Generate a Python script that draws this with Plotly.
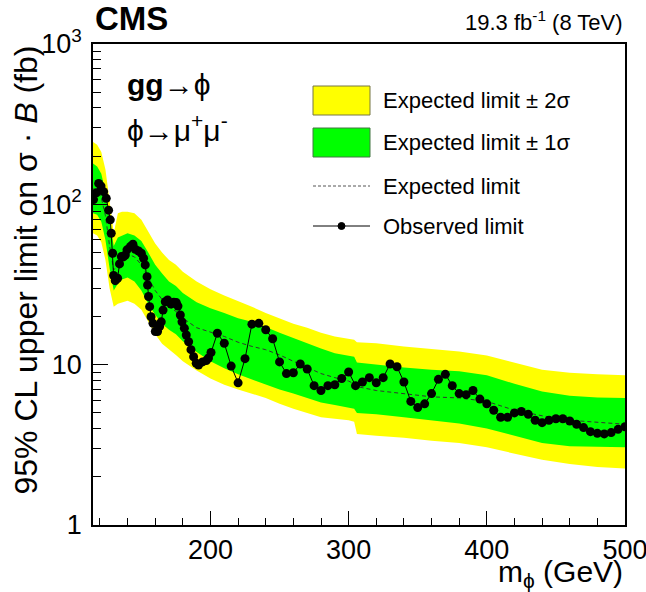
import plotly.graph_objects as go

# Expected limit and its +-1/2 sigma bands (fb) versus mass (GeV)
band_mass = [115, 118, 121, 124, 127, 130, 133, 136, 140, 145, 150, 155, 160, 165, 170,
             175, 180, 190, 200, 210, 220, 230, 240, 250, 260, 270, 280, 290, 300,
             304, 306, 320, 340, 360, 380, 400, 420, 440, 460, 480, 500]
exp_limit = [125, 122, 110, 85, 55, 39, 42, 46, 49, 47, 42, 35, 29, 25.5, 23,
             21.5, 19.5, 17, 16, 15, 13.8, 13, 12.4, 11.5, 10.5, 9.6, 8.8, 8.3, 7.9,
             7.6, 7.3, 6.9, 6.6, 6.3, 6.2, 5.9, 5.2, 4.8, 4.5, 4.35, 4.25]
exp_m2 = [66, 64, 58, 45, 30, 23, 24, 24.5, 25, 24, 22, 18.5, 15.5, 13.5, 12.5,
          11.5, 10.5, 9.2, 8.2, 7.5, 7.0, 6.6, 6.2, 5.7, 5.3, 5.0, 4.7, 4.6, 4.5,
          4.4, 3.7, 3.6, 3.5, 3.35, 3.25, 3.05, 2.8, 2.55, 2.4, 2.3, 2.25]
exp_m1 = [88, 86, 78, 60, 40, 29, 32, 34, 35, 33, 29, 24, 20.5, 18, 16.5,
          15.5, 14, 12, 10.5, 9.5, 8.7, 8.1, 7.6, 7.0, 6.6, 6.2, 5.8, 5.6, 5.4,
          5.3, 5.0, 4.9, 4.7, 4.5, 4.3, 4.0, 3.6, 3.25, 3.1, 3.08, 3.05]
exp_p1 = [180, 172, 155, 120, 80, 55, 62, 64, 66, 64, 59, 50, 42, 37, 33,
          31, 28, 24.5, 22.5, 21, 19.5, 18.5, 17.2, 15.8, 14.6, 13.6, 12.6, 11.8, 11.4,
          11.2, 10.3, 10.0, 9.6, 9.3, 9.1, 8.6, 7.6, 6.8, 6.4, 6.25, 6.2]
exp_p2 = [245, 235, 212, 165, 105, 66, 88, 90, 90, 88, 80, 68, 57, 50, 45,
          42, 38, 33, 29.5, 27, 25, 23, 21, 19.5, 18, 17, 15.8, 15, 14.6,
          14.3, 13.8, 13.6, 13.0, 12.5, 12.1, 11.4, 10.3, 9.3, 8.9, 8.7, 8.6]

# Observed limit (fb)
obs_mass = [115.4, 117.4, 119.1, 120.8, 122.7, 124.6, 126.3, 127.5, 128.2, 129.2, 129.9,
            131.1, 132.8, 134.2, 135.5, 137.0, 138.4, 139.6, 142.0, 143.9, 145.6, 148.0,
            150.0, 151.6, 152.8, 154.1, 154.5, 155.2, 156.0, 157.0, 158.4, 160.1, 161.7,
            163.2, 164.4, 165.7, 167.3, 169.0, 171.4, 173.5, 175.3, 176.5, 178.2, 179.4,
            181.1, 182.5, 184.2, 185.9, 187.8, 189.7, 191.4, 194.3, 197.0, 198.6, 200.4,
            205, 210, 215, 220, 225, 230, 235, 240, 245, 250, 255, 260, 265, 270, 275,
            280, 285, 290, 295, 300, 305, 310, 315, 320, 325, 330, 335, 340, 345, 350,
            355, 360, 365, 370, 375, 380, 385, 390, 395, 400, 405, 410, 415, 420, 425,
            430, 435, 440, 445, 450, 455, 460, 465, 470, 475, 480, 485, 490, 495, 500]
obs_limit = [107, 118, 135, 130, 120, 109, 92, 80, 66, 49.5, 36,
             33.4, 34.6, 42.5, 47.2, 47, 48.3, 52, 54.5, 56.4, 52.5, 51.2,
             49.5, 46.1, 41.9, 35.4, 31.4, 26.6, 23, 19.9, 18.1, 16.1, 16.1,
             17.3, 18.5, 21.9, 24.7, 25.3, 23.9, 24.5, 24.4, 23.2, 20.4, 18.5,
             16.9, 15.3, 13.9, 12.4, 11.2, 10.2, 9.96, 10.4, 10.6, 11.0, 11.9,
             15.7, 13.6, 9.8, 7.7, 10.9, 17.9, 18.1, 16.5, 14.5, 10.4, 8.8, 8.9, 10.1, 9.4, 7.4,
             6.9, 7.4, 7.5, 8.2, 9.0, 7.4, 7.8, 8.3, 7.7, 8.3, 10.1, 9.7, 7.8, 5.9, 5.4,
             5.7, 6.6, 8.1, 8.7, 7.4, 6.6, 6.5, 6.9, 6.1, 5.7, 5.2, 4.7, 4.7, 5.0, 5.1,
             4.9, 4.5, 4.35, 4.5, 4.6, 4.6, 4.45, 4.25, 4.05, 3.82, 3.73, 3.70, 3.77, 3.95, 4.1]

x_major = [200, 300, 400, 500]
x_minor = list(range(120, 501, 20))
y_major = [1, 10, 100, 1000]
y_major_text = ["1", "10", "10<sup>2</sup>", "10<sup>3</sup>"]
y_minor = [m * d for d in (1, 10, 100) for m in range(2, 10)]

YELLOW = "#ffff00"
GREEN = "#00ff00"
FONT = "Liberation Sans, Arial, Helvetica, sans-serif"

fig = go.Figure()
fig.add_trace(go.Scatter(x=band_mass, y=exp_m2, mode="lines", line=dict(width=0, color=YELLOW),
                         showlegend=False, hoverinfo="skip"))
fig.add_trace(go.Scatter(x=band_mass, y=exp_p2, mode="lines", line=dict(width=0, color=YELLOW),
                         fill="tonexty", fillcolor=YELLOW, showlegend=False, hoverinfo="skip"))
fig.add_trace(go.Scatter(x=band_mass, y=exp_m1, mode="lines", line=dict(width=0, color=GREEN),
                         showlegend=False, hoverinfo="skip"))
fig.add_trace(go.Scatter(x=band_mass, y=exp_p1, mode="lines", line=dict(width=0, color=GREEN),
                         fill="tonexty", fillcolor=GREEN, showlegend=False, hoverinfo="skip"))
fig.add_trace(go.Scatter(x=band_mass, y=exp_limit, mode="lines",
                         line=dict(width=1, color="#333333", dash="4px,3px"), showlegend=False))
fig.add_trace(go.Scatter(x=obs_mass, y=obs_limit, mode="lines+markers",
                         line=dict(width=1, color="black"),
                         marker=dict(size=9, color="black"), showlegend=False))

# Hand-drawn legend in the ROOT style (positions in pixels of the page)
def px_x(p):
    return (p - 93) / 532.0

def px_y(p):
    return (525 - p) / 481.0

shapes = [
    dict(type="rect", xref="paper", yref="paper", x0=px_x(313), x1=px_x(370), y0=px_y(115), y1=px_y(86),
         fillcolor=YELLOW, line=dict(color="#777744", width=1)),
    dict(type="rect", xref="paper", yref="paper", x0=px_x(313), x1=px_x(370), y0=px_y(157), y1=px_y(128),
         fillcolor=GREEN, line=dict(color="#447744", width=1)),
    dict(type="line", xref="paper", yref="paper", x0=px_x(313), x1=px_x(370), y0=px_y(186), y1=px_y(186),
         line=dict(color="#555555", width=1, dash="3px,2px")),
    dict(type="line", xref="paper", yref="paper", x0=px_x(313), x1=px_x(370), y0=px_y(226), y1=px_y(226),
         line=dict(color="black", width=1)),
    dict(type="circle", xref="paper", yref="paper", x0=px_x(338), x1=px_x(345), y0=px_y(229.5), y1=px_y(222.5),
         fillcolor="black", line=dict(color="black", width=1)),
]

legend_labels = ["Expected limit ± 2σ", "Expected limit ± 1σ", "Expected limit", "Observed limit"]
legend_rows = [101, 142, 186, 227]

annotations = []
for lab, row in zip(legend_labels, legend_rows):
    annotations.append(dict(xref="paper", yref="paper", x=px_x(381), y=px_y(row), xanchor="left",
                            yanchor="middle", text=lab, showarrow=False,
                            font=dict(family=FONT, size=22, color="black")))

annotations += [
    dict(xref="paper", yref="paper", x=0.0, y=px_y(39), xanchor="left", yanchor="bottom",
         text="<b>CMS</b>", showarrow=False, font=dict(family=FONT, size=33, color="black")),
    dict(xref="paper", yref="paper", x=1.0, y=px_y(37), xanchor="right", yanchor="bottom",
         text="19.3 fb<sup>-1</sup> (8 TeV)", showarrow=False, font=dict(family=FONT, size=22, color="black")),
    dict(xref="paper", yref="paper", x=px_x(125), y=px_y(84), xanchor="left", yanchor="middle",
         text="<b>gg</b>→ϕ", showarrow=False, font=dict(family=FONT, size=30, color="black")),
    dict(xref="paper", yref="paper", x=px_x(125), y=px_y(128), xanchor="left", yanchor="middle",
         text="ϕ→μ<sup>+</sup>μ<sup>-</sup>", showarrow=False, font=dict(family=FONT, size=30, color="black")),
    dict(xref="paper", yref="paper", x=px_x(25), y=1.0, xanchor="center", yanchor="top", textangle=-90,
         text="95% CL upper limit on σ · <i>B</i> (fb)", showarrow=False,
         font=dict(family=FONT, size=32, color="black")),
    dict(xref="paper", yref="paper", x=1.0, y=px_y(594), xanchor="right", yanchor="bottom",
         text="m<sub>ϕ</sub> (GeV)", showarrow=False, font=dict(family=FONT, size=30, color="black")),
]

fig.update_layout(
    width=646, height=592,
    margin=dict(l=93, r=21, t=44, b=67, autoexpand=False),
    plot_bgcolor="white", paper_bgcolor="white",
    font=dict(family=FONT, size=27, color="black"),
    shapes=shapes, annotations=annotations, showlegend=False,
)
fig.update_xaxes(
    range=[115, 500], showgrid=False, zeroline=False, automargin=False,
    showline=True, linecolor="black", linewidth=1.5, mirror=True,
    ticks="inside", ticklen=14, tickwidth=1, tickcolor="black",
    tickmode="array", tickvals=x_major, ticktext=[str(v) for v in x_major],
    tickfont=dict(family=FONT, size=27), ticklabeloverflow="allow",
    minor=dict(ticks="inside", ticklen=7, tickwidth=1, tickcolor="black", tickmode="array",
               tickvals=x_minor, showgrid=False),
)
fig.update_yaxes(
    type="log", range=[0, 3], showgrid=False, zeroline=False, automargin=False,
    showline=True, linecolor="black", linewidth=1.5, mirror=True,
    ticks="inside", ticklen=15, tickwidth=1, tickcolor="black",
    tickmode="array", tickvals=y_major, ticktext=y_major_text,
    tickfont=dict(family=FONT, size=27), ticklabelstandoff=4, ticklabeloverflow="allow",
    minor=dict(ticks="inside", ticklen=8, tickwidth=1, tickcolor="black", tickmode="array",
               tickvals=y_minor, showgrid=False),
)

fig.write_html("out.html")
